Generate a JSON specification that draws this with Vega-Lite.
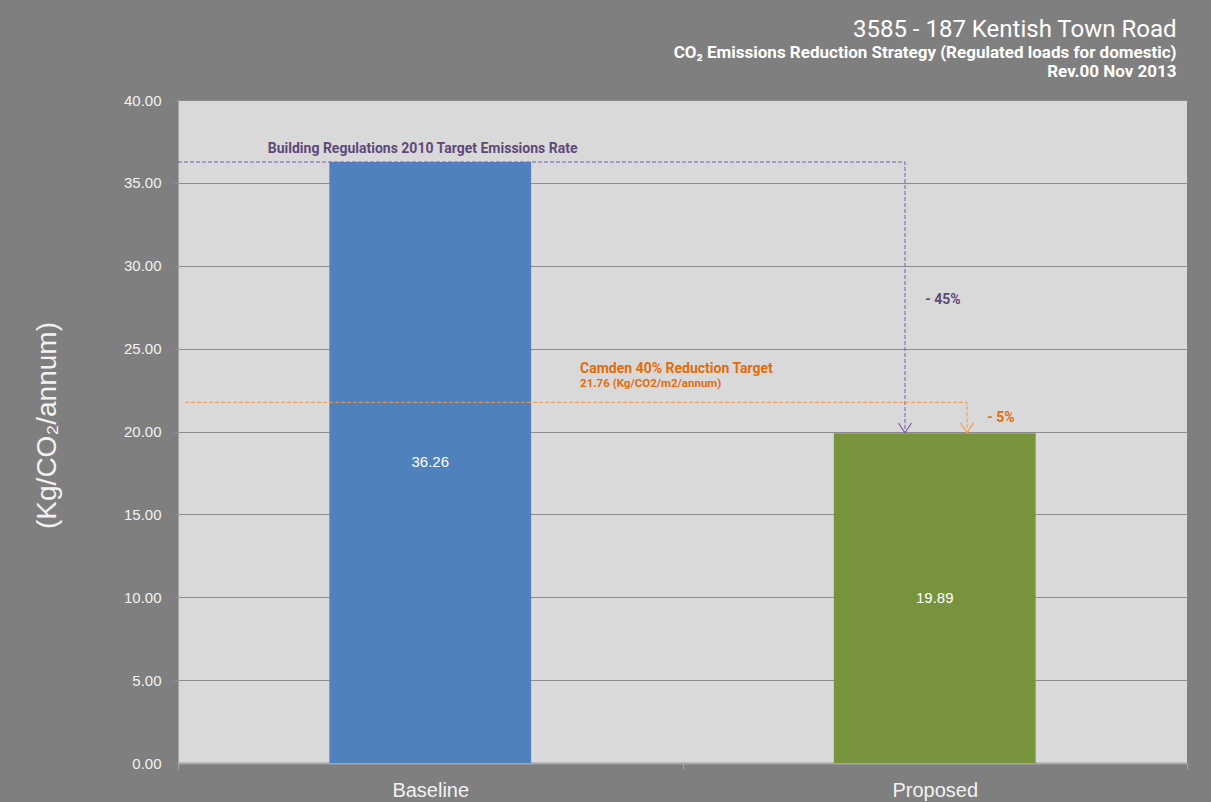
{
  "$schema": "https://vega.github.io/schema/vega-lite/v6.json",
  "width": 1009,
  "height": 663,
  "autosize": {"type": "none"},
  "padding": {"left": 178, "top": 100, "right": 24, "bottom": 39},
  "background": "#7f7f7f",
  "config": {
    "view": {"fill": "#d9d9d9", "stroke": null},
    "font": "Liberation Sans"
  },
  "title": {
    "text": "3585 - 187 Kentish Town Road",
    "subtitle": ["CO₂ Emissions Reduction Strategy (Regulated loads for domestic)", "Rev.00 Nov 2013"],
    "anchor": "end",
    "dx": -11,
    "offset": 13,
    "font": "Roboto",
    "fontSize": 24,
    "fontWeight": "normal",
    "color": "#ffffff",
    "subtitleFont": "Roboto",
    "subtitleFontSize": 17,
    "subtitleFontWeight": "bold",
    "subtitleColor": "#ffffff",
    "subtitleLineHeight": 19,
    "subtitlePadding": 3
  },
  "datasets": {
    "bars": [
      {"scenario": "Baseline", "emissions": 36.26},
      {"scenario": "Proposed", "emissions": 19.89}
    ],
    "paths": [
      {"series": "Building Regulations", "step": 1, "pos": 0, "level": 36.26},
      {"series": "Building Regulations", "step": 2, "pos": 1.441, "level": 36.26},
      {"series": "Building Regulations", "step": 3, "pos": 1.441, "level": 19.91},
      {"series": "Camden", "step": 1, "pos": 0.014, "level": 21.76},
      {"series": "Camden", "step": 2, "pos": 1.564, "level": 21.76},
      {"series": "Camden", "step": 3, "pos": 1.564, "level": 19.91}
    ],
    "notes": [
      {"series": "Building Regulations", "kind": "main", "note": "Building Regulations 2010 Target Emissions Rate", "pos": 0.178, "level": 37.04},
      {"series": "Building Regulations", "kind": "main", "note": "- 45%", "pos": 1.481, "level": 27.93},
      {"series": "Camden", "kind": "main", "note": "Camden 40% Reduction Target", "pos": 0.797, "level": 23.77},
      {"series": "Camden", "kind": "detail", "note": "21.76 (Kg/CO2/m2/annum)", "pos": 0.797, "level": 22.87},
      {"series": "Camden", "kind": "main", "note": "- 5%", "pos": 1.604, "level": 20.81}
    ]
  },
  "layer": [
    {
      "data": {"name": "bars"},
      "mark": {"type": "bar", "width": {"band": 0.4}},
      "encoding": {
        "x": {
          "field": "scenario", "type": "nominal",
          "scale": {"paddingInner": 0, "paddingOuter": 0},
          "axis": {
            "title": null, "labelAngle": 0, "labelFont": "Liberation Sans",
            "labelFontSize": 20, "labelColor": "#f2f2f2", "labelPadding": 11,
            "ticks": true, "tickBand": "extent", "tickSize": 6, "tickColor": "#a6a6a6",
            "domainColor": "#a6a6a6", "domainWidth": 2, "grid": false
          }
        },
        "y": {
          "field": "emissions", "type": "quantitative",
          "scale": {"domain": [0, 40]},
          "axis": {
            "title": "(Kg/CO₂/annum)", "titleFont": "Liberation Sans", "titleFontSize": 28,
            "titleFontWeight": "normal", "titleColor": "#f2f2f2",
            "titleX": -131, "titleY": 325, "titleAngle": -90, "titleAlign": "center", "titleBaseline": "middle",
            "values": [0, 5, 10, 15, 20, 25, 30, 35, 40],
            "format": ".2f", "labelFontSize": 15, "labelColor": "#f2f2f2", "labelPadding": 12,
            "tickSize": 5, "tickColor": "#8c8c8c", "domainColor": "#a6a6a6",
            "gridColor": "#8c8c8c", "gridWidth": 1
          }
        },
        "color": {
          "field": "scenario", "type": "nominal",
          "scale": {"domain": ["Baseline", "Proposed"], "range": ["#4f81bd", "#77933c"]},
          "legend": null
        }
      }
    },
    {
      "data": {"name": "bars"},
      "transform": [{"calculate": "datum.emissions / 2", "as": "middle"}],
      "mark": {"type": "text", "color": "#ffffff", "fontSize": 15, "font": "Liberation Sans"},
      "encoding": {
        "x": {"field": "scenario", "type": "nominal", "scale": {"paddingInner": 0, "paddingOuter": 0}, "axis": null},
        "y": {"field": "middle", "type": "quantitative", "scale": {"domain": [0, 40]}},
        "text": {"field": "emissions", "type": "quantitative", "format": ".2f"}
      }
    },
    {
      "data": {"name": "paths"},
      "mark": {"type": "line", "strokeDash": [4, 2], "strokeWidth": 1},
      "encoding": {
        "x": {"field": "pos", "type": "quantitative", "scale": {"domain": [0, 2], "nice": false}, "axis": null},
        "y": {"field": "level", "type": "quantitative", "scale": {"domain": [0, 40]}},
        "order": {"field": "step", "type": "quantitative"},
        "detail": {"field": "series", "type": "nominal"},
        "color": {
          "field": "series", "type": "nominal",
          "scale": {"domain": ["Building Regulations", "Camden"], "range": ["#7d5bb0", "#f79646"]},
          "legend": null
        }
      }
    },
    {
      "data": {"name": "paths"},
      "transform": [{"filter": "datum.step == 3"}],
      "mark": {"type": "point", "shape": "M-1.3,-2L0,0L1.3,-2", "size": 100, "filled": false, "strokeWidth": 1.2, "opacity": 1},
      "encoding": {
        "x": {"field": "pos", "type": "quantitative", "scale": {"domain": [0, 2], "nice": false}, "axis": null},
        "y": {"field": "level", "type": "quantitative", "scale": {"domain": [0, 40]}},
        "color": {
          "field": "series", "type": "nominal",
          "scale": {"domain": ["Building Regulations", "Camden"], "range": ["#7d5bb0", "#f79646"]},
          "legend": null
        }
      }
    },
    {
      "data": {"name": "notes"},
      "transform": [{"filter": "datum.kind == 'main'"}],
      "mark": {"type": "text", "align": "left", "baseline": "middle", "font": "Roboto", "fontSize": 14, "fontWeight": "bold"},
      "encoding": {
        "x": {"field": "pos", "type": "quantitative", "scale": {"domain": [0, 2], "nice": false}, "axis": null},
        "y": {"field": "level", "type": "quantitative", "scale": {"domain": [0, 40]}},
        "text": {"field": "note", "type": "nominal"},
        "color": {
          "field": "series", "type": "nominal",
          "scale": {"domain": ["Building Regulations", "Camden"], "range": ["#5f497a", "#e46c0a"]},
          "legend": null
        }
      }
    },
    {
      "data": {"name": "notes"},
      "transform": [{"filter": "datum.kind == 'detail'"}],
      "mark": {"type": "text", "align": "left", "baseline": "middle", "font": "Roboto", "fontSize": 11.5, "fontWeight": "bold"},
      "encoding": {
        "x": {"field": "pos", "type": "quantitative", "scale": {"domain": [0, 2], "nice": false}, "axis": null},
        "y": {"field": "level", "type": "quantitative", "scale": {"domain": [0, 40]}},
        "text": {"field": "note", "type": "nominal"},
        "color": {
          "field": "series", "type": "nominal",
          "scale": {"domain": ["Building Regulations", "Camden"], "range": ["#5f497a", "#e46c0a"]},
          "legend": null
        }
      }
    }
  ],
  "resolve": {"scale": {"x": "independent", "color": "independent"}}
}
